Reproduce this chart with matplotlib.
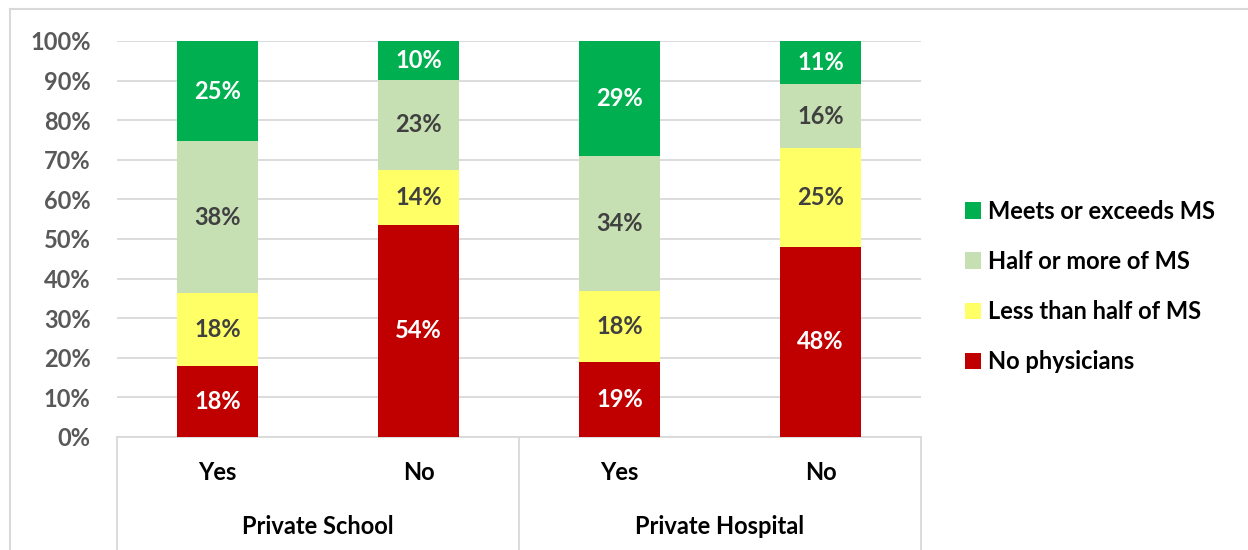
import numpy as np
import matplotlib.pyplot as plt
from matplotlib.lines import Line2D
from matplotlib.transforms import blended_transform_factory

plt.rcParams['font.family'] = ['Lato', 'DejaVu Sans']

# data (percent of respondents)
groups = ["Private School", "Private Hospital"]
answers = ["Yes", "No", "Yes", "No"]
series = ["No physicians", "Less than half of MS", "Half or more of MS", "Meets or exceeds MS"]
no_phys = [17.9, 53.6, 18.9, 48.0]
less_half = [18.5, 13.8, 18.0, 25.0]
half_more = [38.3, 22.8, 34.1, 16.1]
meets = [25.3, 9.8, 29.0, 10.9]

colors = ["#C00000", "#FFFF66", "#C6E0B4", "#00B050"]
text_colors = ["white", "#404040", "#404040", "white"]

fig = plt.figure(figsize=(12.48, 5.5), dpi=100)
W, H = 1248, 550
x0, x1, y0, y1 = 117, 921, 437, 41
ax = fig.add_axes([x0 / W, 1 - y0 / H, (x1 - x0) / W, (y0 - y1) / H])
fs = 17

x = np.arange(len(answers))
bottom = np.zeros(len(answers))
for vals, c, tc, name in zip([no_phys, less_half, half_more, meets], colors, text_colors, series):
    vals = np.array(vals)
    ax.bar(x, vals, 0.4, bottom=bottom, color=c, label=name, zorder=3)
    for xi, b, v in zip(x, bottom, vals):
        ax.text(xi, b + v / 2, f"{v:.0f}%", ha="center", va="center",
                color=tc, fontsize=fs, fontweight="bold", zorder=4)
    bottom += vals

ax.set_xlim(-0.5, 3.5)
ax.set_ylim(0, 100)
ax.set_yticks(np.arange(0, 101, 10))
ax.set_yticklabels([f"{t}%" for t in range(0, 101, 10)], fontsize=fs,
                   fontweight="bold", color="#595959")
ax.tick_params(axis="y", length=0, pad=19)
ax.tick_params(axis="x", length=0, labelbottom=False)
ax.grid(axis="y", color="#D9D9D9", linewidth=1.3, zorder=0)
for s in ["top", "right", "left"]:
    ax.spines[s].set_visible(False)
ax.spines["bottom"].set_color("#D9D9D9")
ax.spines["bottom"].set_linewidth(1.3)

# category axis with group labels
trans = blended_transform_factory(ax.transData, fig.transFigure)
for xi, a in zip(x, answers):
    ax.text(xi, 1 - 472 / H, a, transform=trans, ha="center", va="center",
            fontsize=fs, fontweight="bold", color="black")
for gi, g in enumerate(groups):
    ax.text(gi * 2 + 0.5, 1 - 527 / H, g, transform=trans, ha="center", va="center",
            fontsize=fs, fontweight="bold", color="black")
for xs in [-0.5, 1.5, 3.5]:
    ax.add_line(Line2D([xs, xs], [1 - y0 / H, 0], transform=trans, color="#D9D9D9",
                       linewidth=1.3, clip_on=False))

# chart border (left/top visible)
fig.add_artist(Line2D([10 / W, 10 / W], [0, 1 - 9 / H], color="#D9D9D9", linewidth=1.5))
fig.add_artist(Line2D([10 / W, 1], [1 - 9 / H, 1 - 9 / H], color="#D9D9D9", linewidth=1.5))

handles, labels = ax.get_legend_handles_labels()
ax.legend(handles[::-1], labels[::-1], loc="center left", bbox_to_anchor=(1.028, 0.38),
          frameon=False, prop={"size": fs, "weight": "bold"}, handlelength=0.7,
          handleheight=0.7, handletextpad=0.3, labelspacing=1.15)

fig.savefig("out.png", dpi=100)
